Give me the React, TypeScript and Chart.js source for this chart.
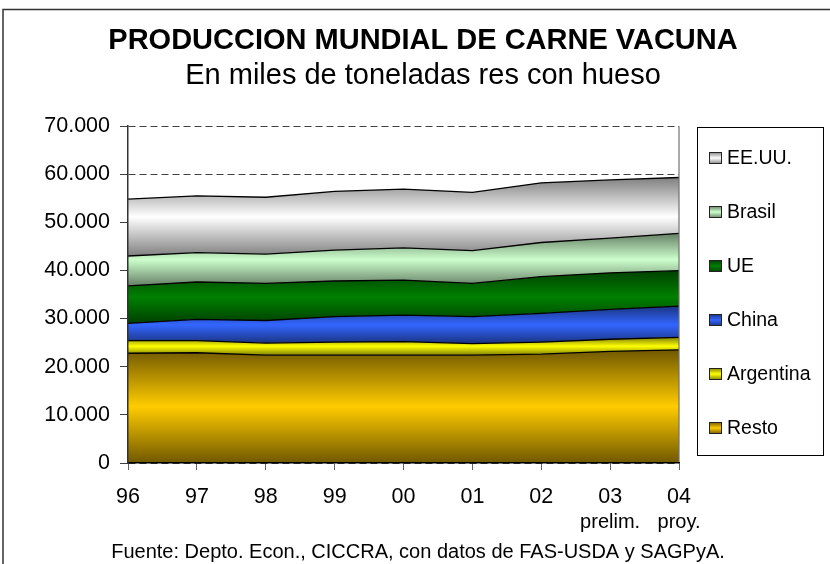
import React, { useEffect, useRef } from 'react';
import { Chart, registerables } from 'chart.js';

Chart.register(...registerables);

const FONT = 'Liberation Sans, Arial, Helvetica, sans-serif';

const categories = ['96', '97', '98', '99', '00', '01', '02', '03', '04'];
const subLabels = ['', '', '', '', '', '', '', 'prelim.', 'proy.'];
const yTickLabels = ['0', '10.000', '20.000', '30.000', '40.000', '50.000', '60.000', '70.000'];

const resto = [22800, 22900, 22400, 22400, 22400, 22400, 22600, 23200, 23500];
const argentina = [2600, 2500, 2500, 2700, 2800, 2400, 2500, 2500, 2600];
const china = [3600, 4450, 4700, 5300, 5500, 5600, 6000, 6200, 6500];
const ue = [7800, 7750, 7700, 7400, 7300, 6900, 7600, 7600, 7350];
const brasil = [6200, 6100, 6100, 6400, 6700, 6800, 7100, 7200, 7750];
const eeuu = [11800, 11800, 11800, 12200, 12200, 12100, 12400, 12100, 11600];

const seriesNames = ['Resto', 'Argentina', 'China', 'UE', 'Brasil', 'EE.UU.'];
const seriesValues = [resto, argentina, china, ue, brasil, eeuu];
const lightColors = ['#FFCC00', '#FFFF00', '#3366FF', '#008000', '#CCFFCC', '#FFFFFF'];
const darkColors = ['#705800', '#808000', '#1A3380', '#004000', '#667F66', '#808080'];

const titleText = 'PRODUCCION MUNDIAL DE CARNE VACUNA';
const subtitleText = 'En miles de toneladas res con hueso';
const footerText = 'Fuente: Depto. Econ., CICCRA, con datos de FAS-USDA y SAGPyA.';

function cumulative(upTo: number): number[] {
  return categories.map((_, i) => {
    let s = 0;
    for (let k = 0; k <= upTo; k++) s += seriesValues[k][i];
    return s;
  });
}

function bandGradient(chart: any, idx: number) {
  const yScale = chart.scales.y;
  const tops = cumulative(idx);
  const bottoms = idx === 0 ? categories.map(() => 0) : cumulative(idx - 1);
  const y0 = yScale.getPixelForValue(Math.max(...tops));
  const y1 = yScale.getPixelForValue(Math.min(...bottoms));
  const g = chart.ctx.createLinearGradient(0, y0, 0, y1);
  g.addColorStop(0, darkColors[idx]);
  g.addColorStop(0.5, lightColors[idx]);
  g.addColorStop(1, darkColors[idx]);
  return g;
}

const decorPlugin = {
  id: 'decor',
  afterDatasetsDraw(chart: any) {
    const { ctx, chartArea: a } = chart;
    ctx.save();
    ctx.strokeStyle = '#707070';
    ctx.lineWidth = 1.2;
    ctx.beginPath();
    ctx.moveTo(a.right, a.top);
    ctx.lineTo(a.right, a.bottom);
    ctx.stroke();
    ctx.restore();
  },
  afterDraw(chart: any) {
    const { ctx, chartArea: a, scales } = chart;
    ctx.save();
    // outer frame
    ctx.strokeStyle = '#333';
    ctx.lineWidth = 1.5;
    ctx.strokeRect(3, 9.5, 1000, 1000);

    ctx.fillStyle = '#000';
    ctx.textAlign = 'center';
    ctx.textBaseline = 'alphabetic';
    ctx.font = `bold 29px ${FONT}`;
    ctx.fillText(titleText, 423, 49);
    ctx.font = `29px ${FONT}`;
    ctx.fillText(subtitleText, 423, 84);
    ctx.font = `20px ${FONT}`;
    ctx.fillText(footerText, 418, 558);

    // sub labels under x ticks
    ctx.font = `20px ${FONT}`;
    subLabels.forEach((t, i) => {
      if (!t) return;
      ctx.fillText(t, scales.x.getPixelForValue(i), 528);
    });

    // legend
    const lx = a.right + 18;
    const ly = a.top + 1;
    ctx.strokeStyle = '#000';
    ctx.lineWidth = 1;
    ctx.strokeRect(lx + 0.5, ly + 0.5, 126, 328);
    ctx.font = `19.5px ${FONT}`;
    ctx.textAlign = 'left';
    ctx.textBaseline = 'middle';
    for (let j = 0; j < seriesNames.length; j++) {
      const idx = seriesNames.length - 1 - j;
      const cy = a.top + 32 + j * 54;
      const bx = lx + 12;
      const by = cy - 6;
      const g = ctx.createLinearGradient(0, by, 0, by + 12);
      g.addColorStop(0, darkColors[idx]);
      g.addColorStop(0.5, lightColors[idx]);
      g.addColorStop(1, darkColors[idx]);
      ctx.fillStyle = g;
      ctx.fillRect(bx, by, 13, 12);
      ctx.strokeStyle = '#222';
      ctx.strokeRect(bx + 0.5, by + 0.5, 12, 11);
      ctx.fillStyle = '#000';
      ctx.fillText(seriesNames[idx], bx + 18, cy + 1);
    }
    ctx.restore();
  },
};

export default function App() {
  const canvasRef = useRef<HTMLCanvasElement | null>(null);

  useEffect(() => {
    const canvas = canvasRef.current;
    if (!canvas) return;
    const datasets = seriesNames.map((name, idx) => ({
      label: name,
      data: seriesValues[idx],
      fill: idx === 0 ? 'origin' : '-1',
      borderColor: '#000',
      borderWidth: 1.3,
      pointRadius: 0,
      tension: 0,
      backgroundColor: (c: any) => {
        const chart = c.chart;
        if (!chart.chartArea || !chart.scales || !chart.scales.y) return lightColors[idx];
        return bandGradient(chart, idx);
      },
    }));

    const chart = new Chart(canvas, {
      type: 'line',
      data: { labels: categories, datasets: datasets as any },
      options: {
        responsive: false,
        animation: false,
        devicePixelRatio: 1,
        layout: { padding: { left: 28, right: 151, top: 126, bottom: 41 } },
        plugins: {
          legend: { display: false },
          title: { display: false },
          tooltip: { enabled: false },
        },
        scales: {
          x: {
            type: 'category',
            offset: false,
            grid: {
              drawOnChartArea: false,
              drawTicks: true,
              tickLength: 7,
              tickColor: '#666',
              tickWidth: 1,
            },
            border: { color: '#000', width: 1.5, z: 1 },
            ticks: {
              font: { family: FONT, size: 21.5 },
              color: '#000',
              padding: 14,
              maxRotation: 0,
              autoSkip: false,
            },
            afterFit: (s: any) => {
              s.height = 60;
            },
          },
          y: {
            stacked: true,
            min: 0,
            max: 70000,
            ticks: {
              stepSize: 10000,
              callback: (_v: any, i: number) => yTickLabels[i],
              font: { family: FONT, size: 21.5 },
              color: '#000',
              padding: 10,
            },
            grid: {
              color: '#404040',
              lineWidth: 1,
              tickLength: 8,
              tickColor: '#404040',
              tickWidth: 1,
              drawTicks: true,
            },
            border: { dash: [7, 4], color: '#333', width: 1.5, z: 1 },
            afterFit: (s: any) => {
              s.width = 100;
            },
          },
        },
      },
      plugins: [decorPlugin],
    });
    return () => chart.destroy();
  }, []);

  return (
    <div
      style={{
        position: 'absolute',
        left: 0,
        top: 0,
        width: 830,
        height: 564,
        overflow: 'hidden',
        background: '#fff',
      }}
    >
      <canvas ref={canvasRef} width={830} height={564} style={{ display: 'block' }} />
    </div>
  );
}
